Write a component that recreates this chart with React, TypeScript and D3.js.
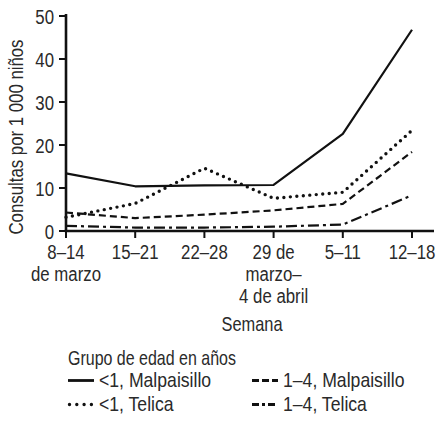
import React from "react";
import * as d3 from "d3";

const weeks = ["8–14", "15–21", "22–28", "29 de", "5–11", "12–18"];
const weekSub = [["de marzo"], [], [], ["marzo–", "4 de abril"], [], []];
const yTicks = [0, 10, 20, 30, 40, 50];

const malpaUnder1 = [13.4, 10.4, 10.6, 10.7, 22.6, 46.8];
const telicaUnder1 = [3.2, 6.4, 14.6, 7.6, 9.0, 23.4];
const malpa1to4 = [4.3, 3.0, 3.8, 4.8, 6.3, 18.4];
const telica1to4 = [1.2, 0.8, 0.8, 1.0, 1.5, 8.3];

const seriesNames = ["<1, Malpaisillo", "<1, Telica", "1–4, Malpaisillo", "1–4, Telica"];

const W = 437;
const H = 423;
const FONT = "'Liberation Sans', Arial, sans-serif";
const INK = "#2a2a2a";

const styles = {
  solid: { dash: null, legendDash: null, width: 2.2, cap: "butt" },
  dotted: { dash: "0 6.5", legendDash: "0 7.3", width: 3.4, cap: "round" },
  dashed: { dash: "7 4", legendDash: "7 3", width: 2.2, cap: "butt" },
  dashdot: { dash: "11 4 3 4", legendDash: "7 3 3 3", width: 2.2, cap: "butt" },
};

// fake a condensed face by squeezing horizontally
const T = ({ x, y, anchor = "start", size = 20, rotate = 0, squeeze = 0.8, children }) => (
  <text
    transform={`translate(${x},${y}) rotate(${rotate}) scale(${squeeze},1)`}
    textAnchor={anchor}
    fontSize={size}
    fill={INK}
  >
    {children}
  </text>
);

const App = () => {
  const x = d3.scalePoint().domain(weeks).range([66, 412]);
  const y = d3.scaleLinear().domain([0, 50]).range([231, 16]);

  const series = [
    { name: seriesNames[0], values: malpaUnder1, style: styles.solid },
    { name: seriesNames[1], values: telicaUnder1, style: styles.dotted },
    { name: seriesNames[2], values: malpa1to4, style: styles.dashed },
    { name: seriesNames[3], values: telica1to4, style: styles.dashdot },
  ];

  const line = d3
    .line()
    .x((d, i) => x(weeks[i]))
    .y((d) => y(d));

  const legendPos = [
    [68, 387],
    [68, 411],
    [252, 387],
    [252, 411],
  ];

  return (
    <div>
      <style>{`body{margin:0;}`}</style>
      <svg width={W} height={H} style={{ display: "block", background: "#fff" }} fontFamily={FONT}>
        {/* axes */}
        <line x1={66} x2={66} y1={14} y2={232} stroke="#111" strokeWidth={2.6} />
        <line x1={64.7} x2={434} y1={231} y2={231} stroke="#111" strokeWidth={2.6} />
        {yTicks.map((t) => (
          <g key={t}>
            <line x1={59} x2={66} y1={y(t)} y2={y(t)} stroke="#111" strokeWidth={2} />
            <T x={54} y={y(t) + 7.5} anchor="end" size={21}>
              {t}
            </T>
          </g>
        ))}
        {weeks.map((w, i) => (
          <g key={w}>
            <line x1={x(w)} x2={x(w)} y1={231} y2={238} stroke="#111" strokeWidth={2} />
            <T x={x(w)} y={259} anchor="middle" size={21}>
              {w}
            </T>
            {weekSub[i].map((s, j) => (
              <T key={s} x={x(w)} y={281 + j * 22} anchor="middle" size={21}>
                {s}
              </T>
            ))}
          </g>
        ))}
        <T x={23} y={137} anchor="middle" size={21} rotate={-90}>
          Consultas por 1 000 niños
        </T>
        <T x={252} y={331} anchor="middle" size={20.5}>
          Semana
        </T>

        {/* series */}
        {series.map((s) => (
          <path
            key={s.name}
            d={line(s.values)}
            fill="none"
            stroke="#111"
            strokeWidth={s.style.width}
            strokeDasharray={s.style.dash || undefined}
            strokeLinecap={s.style.cap}
            strokeLinejoin="round"
          />
        ))}

        {/* legend */}
        <T x={68} y={365} size={20.5} squeeze={0.78}>
          Grupo de edad en años
        </T>
        {series.map((s, i) => {
          const [lx, ly] = legendPos[i];
          return (
            <g key={s.name}>
              <line
                x1={lx + (s.style.cap === "round" ? 1.5 : 0)}
                x2={lx + 26}
                y1={ly - 6.5}
                y2={ly - 6.5}
                stroke="#111"
                strokeWidth={s.style.cap === "round" ? 3.4 : 2.8}
                strokeDasharray={s.style.legendDash || undefined}
                strokeLinecap={s.style.cap}
              />
              <T x={lx + 31} y={ly} size={20.5} squeeze={0.86}>
                {s.name}
              </T>
            </g>
          );
        })}
      </svg>
    </div>
  );
};

export default App;
